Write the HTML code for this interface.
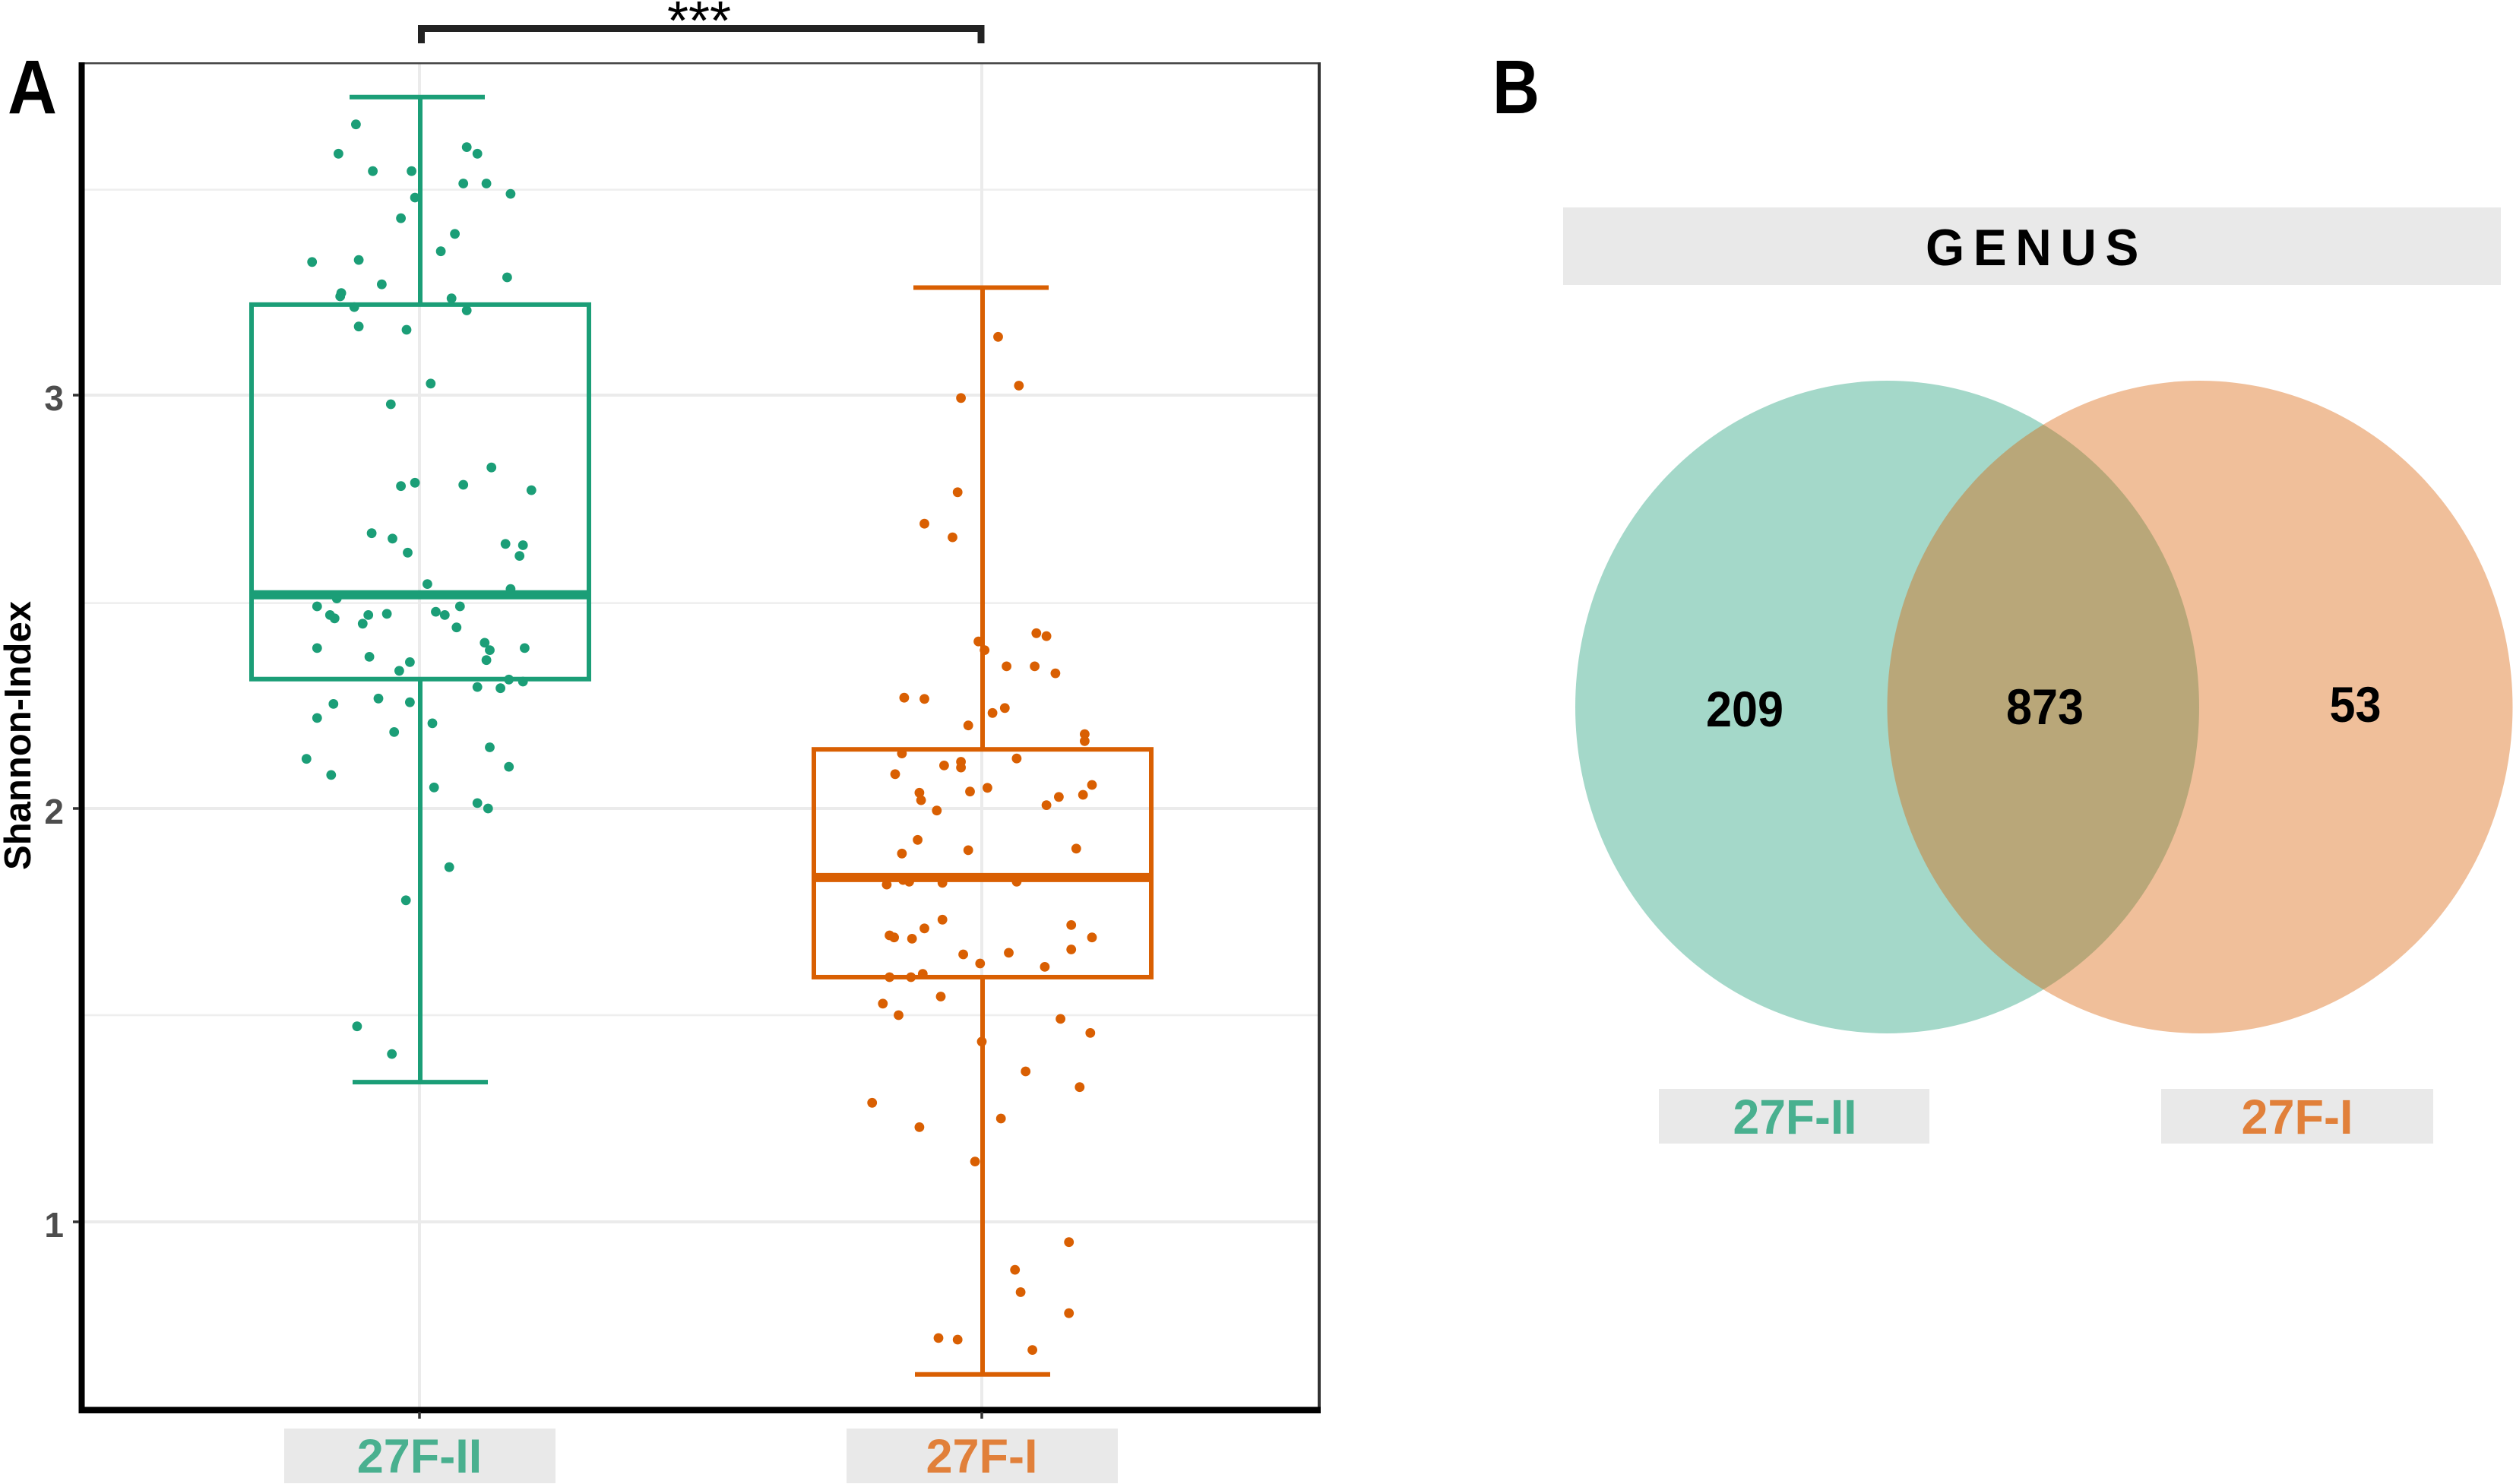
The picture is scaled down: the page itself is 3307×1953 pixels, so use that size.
<!DOCTYPE html>
<html lang="en">
<head>
<meta charset="utf-8">
<title>Shannon index boxplot and genus Venn diagram</title>
<style>
  html, body { margin: 0; padding: 0; background: #ffffff; }
  body { width: 3307px; height: 1953px; overflow: hidden; }
  svg { display: block; font-family: "Liberation Sans", Arial, sans-serif; }
</style>
</head>
<body>
<svg id="figure" xmlns="http://www.w3.org/2000/svg" width="3307" height="1953" viewBox="0 0 3307 1953">
  <rect x="0" y="0" width="3307" height="1953" fill="#ffffff"/>

  <g id="panel-a">
    <g id="grid"></g>
    <g id="points"></g>
    <g id="boxes"></g>

    <rect x="104" y="82" width="1634" height="2.5" fill="#444444"/>
    <rect x="1734" y="82" width="4" height="1778" fill="#333333"/>
    <rect x="103.500" y="82" width="8" height="1778" fill="#000000"/>
    <rect x="107" y="1851.500" width="1631" height="8.500" fill="#000000"/>

    <g id="axes"></g>

    <text transform="translate(40,968) rotate(-90)" text-anchor="middle" font-size="49" font-weight="700" fill="#000000">Shannon-Index</text>

    <path d="M554.500 57 V37.500 H1291 V57" fill="none" stroke="#222222" stroke-width="9"/>
    <text x="920" y="52" text-anchor="middle" font-size="72" fill="#000000">***</text>
    <text x="10" y="149" font-size="100" font-weight="700" fill="#000000" textLength="65" lengthAdjust="spacingAndGlyphs">A</text>
  </g>

  <g id="panel-b">
    <text x="1964" y="149" font-size="100" font-weight="700" fill="#000000" textLength="62" lengthAdjust="spacingAndGlyphs">B</text>
    <rect x="2057" y="273" width="1234" height="102" fill="#e9e9e9"/>
    <text x="2680" y="349" text-anchor="middle" font-size="68" font-weight="700" letter-spacing="12" fill="#000000" textLength="292" lengthAdjust="spacingAndGlyphs">GENUS</text>

    <ellipse cx="2483.500" cy="930.500" rx="410.500" ry="429.500" fill="#1b9e77" fill-opacity="0.4"/>
    <ellipse cx="2895" cy="930.500" rx="411.500" ry="429.500" fill="#d95f02" fill-opacity="0.4"/>
    <g id="venn-counts"></g>

    <rect x="2183" y="1433" width="356" height="72" fill="#e9e9e9"/>
    <rect x="2844" y="1433" width="358" height="72" fill="#e9e9e9"/>
    <text x="2362" y="1492" text-anchor="middle" font-size="64" font-weight="700" fill="#49b08f" textLength="163" lengthAdjust="spacingAndGlyphs">27F-II</text>
    <text x="3023" y="1492" text-anchor="middle" font-size="64" font-weight="700" fill="#e1803a" textLength="147" lengthAdjust="spacingAndGlyphs">27F-I</text>
  </g>
</svg>

<script>
// ---- chart data ----
const categories = ["27F-II", "27F-I"];
const categoryTextColors = ["#49b08f", "#e1803a"];
const seriesColors = ["#1b9e77", "#d95f02"];
const majorTicks = [1, 2, 3];
const tickLabels = ["1", "2", "3"];
const minorGrid = [1.5, 2.497, 3.497];

// Box statistics: lower whisker, Q1, median, Q3, upper whisker
const boxStats27FII = [1.338, 2.313, 2.517, 3.219, 3.721];
const boxStats27FI = [0.631, 1.592, 1.833, 2.143, 3.260];

// Shannon index values and horizontal jitter (in category widths)
const values27FII = [3.655,3.584,3.542,3.542,3.600,3.584,3.512,3.512,3.487,3.478,3.428,3.390,3.348,3.327,3.322,3.285,3.268,3.247,3.239,3.234,3.213,3.205,3.166,3.158,3.028,2.978,2.825,2.788,2.780,2.783,2.770,2.666,2.653,2.640,2.637,2.619,2.611,2.543,2.531,2.508,2.489,2.489,2.468,2.460,2.468,2.471,2.476,2.468,2.447,2.438,2.388,2.401,2.383,2.388,2.367,2.359,2.354,2.333,2.312,2.307,2.294,2.291,2.266,2.257,2.253,2.219,2.206,2.185,2.148,2.120,2.081,2.101,2.051,2.013,2.000,1.858,1.778,1.473,1.406];
const jitter27FII = [-0.113,-0.144,-0.083,-0.014,0.084,0.103,0.078,0.119,0.162,-0.008,-0.033,0.063,0.038,-0.108,-0.191,0.156,-0.067,-0.139,-0.141,0.057,-0.116,0.084,-0.108,-0.023,0.020,-0.051,0.128,-0.008,-0.033,0.078,0.199,-0.085,-0.048,0.153,0.184,-0.021,0.178,0.014,0.162,-0.147,-0.182,0.072,-0.159,-0.151,-0.091,-0.058,0.029,0.045,-0.101,0.066,-0.182,0.116,0.125,0.187,-0.089,0.119,-0.017,-0.036,0.159,0.184,0.103,0.144,-0.073,-0.017,-0.153,-0.182,0.023,-0.045,0.125,-0.201,-0.157,0.159,0.026,0.103,0.122,0.053,-0.024,-0.111,-0.049];

const values27FI = [3.141,3.023,2.993,2.765,2.689,2.656,2.424,2.417,2.404,2.383,2.344,2.344,2.327,2.268,2.265,2.243,2.231,2.201,2.180,2.163,2.133,2.121,2.104,2.113,2.099,2.083,2.057,2.050,2.041,2.038,2.020,2.033,2.028,2.008,1.995,1.924,1.891,1.899,1.903,1.816,1.827,1.823,1.820,1.823,1.731,1.718,1.710,1.693,1.688,1.685,1.688,1.659,1.651,1.647,1.625,1.617,1.600,1.592,1.592,1.545,1.528,1.500,1.491,1.457,1.436,1.364,1.326,1.288,1.250,1.229,1.146,0.951,0.884,0.830,0.779,0.719,0.715,0.690];
const jitter27FI = [0.029,0.066,-0.037,-0.043,-0.102,-0.052,0.097,0.115,-0.006,0.005,0.044,0.094,0.131,-0.138,-0.102,0.041,0.019,-0.024,0.183,0.183,-0.142,0.062,-0.067,-0.037,-0.037,-0.154,0.196,0.010,-0.021,-0.111,-0.108,0.180,0.137,0.115,-0.080,-0.114,-0.142,-0.024,0.168,-0.169,-0.140,-0.129,-0.070,0.062,-0.070,0.159,-0.102,-0.164,-0.156,-0.124,0.196,0.159,0.048,-0.033,-0.003,0.112,-0.105,-0.164,-0.126,-0.073,-0.176,-0.148,0.140,0.193,0.000,0.078,0.174,-0.195,0.034,-0.111,-0.012,0.155,0.059,0.069,0.155,-0.077,-0.043,0.090];

// Venn region counts
const vennCounts = [209, 873, 53];
const vennRegions = ["only-27f-ii", "shared", "only-27f-i"];

// ---- axis functions ----
const NS = "http://www.w3.org/2000/svg";
function yScale(v) { return 1608 - (v - 1) * 544; }
function xScale(pos) { return 552 + pos * 740; }

function make(tag, parent) {
  const el = document.createElementNS(NS, tag);
  parent.appendChild(el);
  return el;
}
function line(parent, x1, y1, x2, y2, color, width) {
  const el = make("line", parent);
  el.setAttribute("x1", x1);
  el.setAttribute("y1", y1);
  el.setAttribute("x2", x2);
  el.setAttribute("y2", y2);
  el.setAttribute("stroke", color);
  el.setAttribute("stroke-width", width);
  return el;
}

const gridG = document.getElementById("grid");
const pointsG = document.getElementById("points");
const boxesG = document.getElementById("boxes");
const axesG = document.getElementById("axes");
const vennG = document.getElementById("venn-counts");

// ---- grid ----
minorGrid.forEach(function (v) {
  const g = line(gridG, 110, yScale(v), 1735, yScale(v), "#eeeeee", 2.5);
  
  
});
majorTicks.forEach(function (v) {
  const g = line(gridG, 110, yScale(v), 1735, yScale(v), "#ebebeb", 4);
  
  
});
categories.forEach(function (c, i) {
  const g = line(gridG, xScale(i), 84, xScale(i), 1852, "#ebebeb", 4);
  
  
});

// ---- jitter points ----
function drawPoints(index, values, jitter) {
  values.forEach(function (v, k) {
    const c = make("circle", pointsG);
    c.setAttribute("cx", xScale(index + jitter[k]).toFixed(1));
    c.setAttribute("cy", yScale(v).toFixed(1));
    c.setAttribute("r", 6.4);
    c.setAttribute("fill", seriesColors[index]);
    
    
  });
}
drawPoints(0, values27FII, jitter27FII);
drawPoints(1, values27FI, jitter27FI);

// ---- boxes ----
function drawBox(index, stats) {
  const color = seriesColors[index];
  const cx = xScale(index) + 1;
  const halfBox = 222;
  const halfCap = 89;
  const capHighShift = index === 0 ? -4 : -2;
  const low = yScale(stats[0]);
  const q1 = yScale(stats[1]);
  const med = yScale(stats[2]);
  const q3 = yScale(stats[3]);
  const high = yScale(stats[4]);

  const upper = line(boxesG, cx, high, cx, q3, color, 6);
  
  

  const lower = line(boxesG, cx, q1, cx, low, color, 6);
  
  

  const capHigh = line(boxesG, cx + capHighShift - halfCap, high, cx + capHighShift + halfCap, high, color, 6);
  
  

  const capLow = line(boxesG, cx - halfCap, low, cx + halfCap, low, color, 6);
  
  

  const rect = make("rect", boxesG);
  rect.setAttribute("x", cx - halfBox);
  rect.setAttribute("y", q3);
  rect.setAttribute("width", halfBox * 2);
  rect.setAttribute("height", q1 - q3);
  rect.setAttribute("fill", "none");
  rect.setAttribute("stroke", color);
  rect.setAttribute("stroke-width", 6);
  
  

  const medLine = line(boxesG, cx - halfBox, med, cx + halfBox, med, color, 12);
  
  
}
drawBox(0, boxStats27FII);
drawBox(1, boxStats27FI);

// ---- y axis ticks ----
majorTicks.forEach(function (v, i) {
  const t = line(axesG, 96, yScale(v), 104, yScale(v), "#333333", 3.5);
  
  

  const label = make("text", axesG);
  label.setAttribute("x", 84);
  label.setAttribute("y", yScale(v) + 20);
  label.setAttribute("text-anchor", "end");
  label.setAttribute("font-size", 46);
  label.setAttribute("font-weight", 700);
  label.setAttribute("fill", "#4d4d4d");
  label.textContent = tickLabels[i];
  
  
});

// ---- x axis ticks and category labels ----
categories.forEach(function (c, i) {
  const t = line(axesG, xScale(i), 1858, xScale(i), 1867, "#333333", 3.5);
  
  

  const bg = make("rect", axesG);
  bg.setAttribute("x", xScale(i) - 178);
  bg.setAttribute("y", 1880);
  bg.setAttribute("width", 357);
  bg.setAttribute("height", 72);
  bg.setAttribute("fill", "#e9e9e9");
  
  

  const label = make("text", axesG);
  label.setAttribute("x", xScale(i));
  label.setAttribute("y", 1938);
  label.setAttribute("text-anchor", "middle");
  label.setAttribute("font-size", 63);
  label.setAttribute("font-weight", 700);
  label.setAttribute("fill", categoryTextColors[i]);
  label.textContent = c;
  
  
});

// ---- venn counts ----
const vennLabelX = { "only-27f-ii": 2296, "shared": 2691, "only-27f-i": 3099.5 };
const vennLabelY = { "only-27f-ii": 956, "shared": 953, "only-27f-i": 950 };
vennCounts.forEach(function (n, i) {
  const region = vennRegions[i];
  const label = make("text", vennG);
  label.setAttribute("x", vennLabelX[region]);
  label.setAttribute("y", vennLabelY[region]);
  label.setAttribute("text-anchor", "middle");
  label.setAttribute("font-size", 66);
  label.setAttribute("font-weight", 700);
  label.setAttribute("fill", "#000000");
  label.setAttribute("textLength", String(n).length * 34);
  label.setAttribute("lengthAdjust", "spacingAndGlyphs");
  label.textContent = n;
  
  
});
</script>
</body>
</html>
